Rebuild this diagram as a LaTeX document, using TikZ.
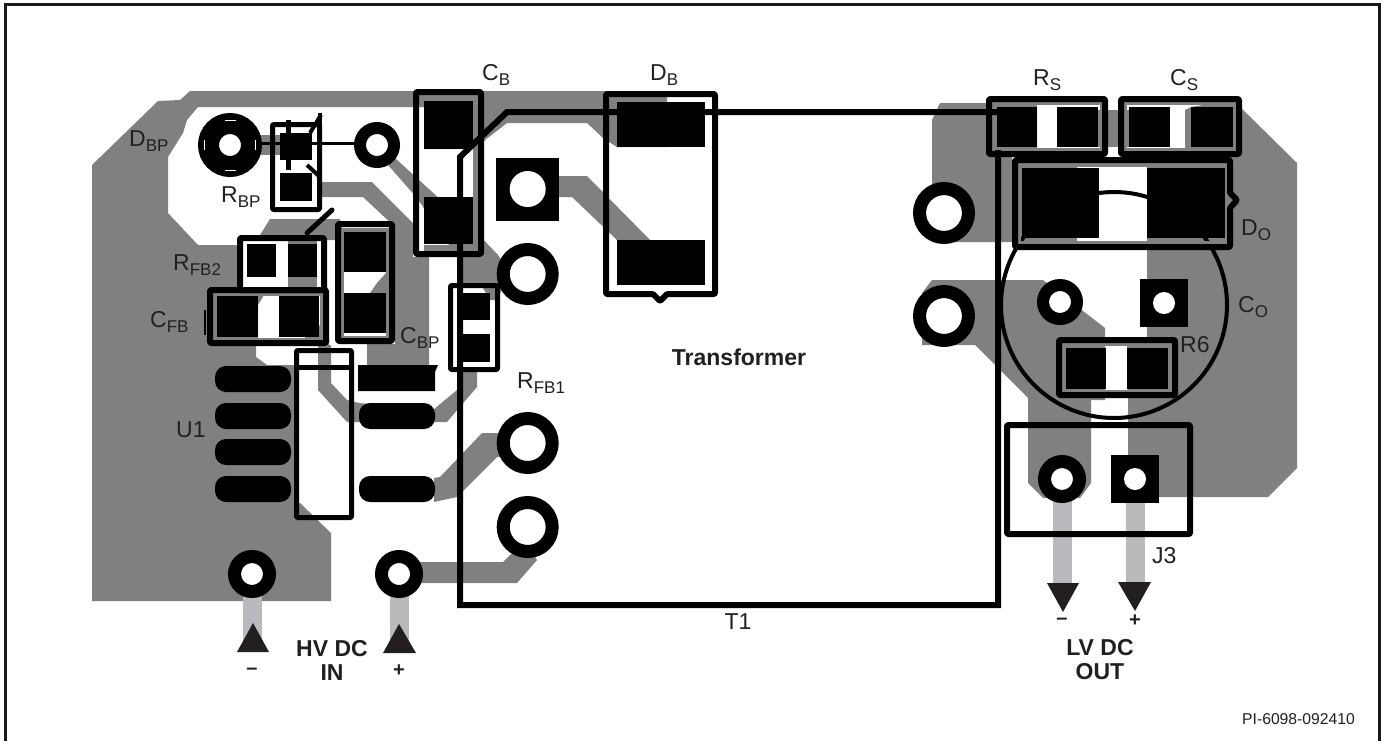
\documentclass[tikz,border=0pt]{standalone}
\usepackage{fontspec}
\setmainfont{Liberation Sans}
\definecolor{trace}{HTML}{808080}
\definecolor{lead}{HTML}{B8BABD}
\definecolor{ink}{HTML}{231F20}
\newcommand\sbx[1]{\raisebox{-0.22em}{\fontsize{17}{17}\selectfont #1}}
\newcommand\ringpad[4]{\fill[white] (#1,#2) circle[radius=#3pt];\draw[line width=#4pt-#3pt,black] (#1,#2) circle[radius=#3pt/2+#4pt/2];}
\newcommand\sqpad[4]{\fill[black] (#1-#3,#2-#3) rectangle (#1+#3,#2+#3);\fill[white] (#1,#2) circle[radius=#4pt];}
\tikzset{
  x=1pt,y=-1pt,
  tr/.style={fill=trace},
  bx/.style={draw=black,line width=6pt,line join=round,rounded corners=1pt},
  inr/.style={draw=trace,line width=4pt},
  wire/.style={draw=black,line width=6pt,line join=miter},
  lbl/.style={anchor=base west,inner sep=0pt,text=ink,font=\fontsize{23}{25}\selectfont},
  bld/.style={anchor=center,inner sep=0pt,align=center,text=ink,font=\fontsize{23}{24}\bfseries\selectfont},
  sgn/.style={anchor=center,inner sep=0pt,text=ink,font=\fontsize{20}{20}\bfseries\selectfont},
  lead line/.style={fill=lead},
  tip/.style={fill=ink},
}
\begin{document}
\begin{tikzpicture}
\useasboundingbox (0,0) rectangle (1383,740);
\fill[white] (0,0) rectangle (1383,740);
\draw[black!90,line width=3pt] (5.5,741) -- (5.5,4) -- (1379.5,4) -- (1379.5,741);

% ---- copper, left half
\path[tr] (92,165) -- (158,101) -- (180,100) -- (190,91) -- (667,91) -- (667,147) -- (617,147) -- (603,138) -- (587,123) -- (507,123) -- (485,140) -- (480,149) -- (424,149) -- (424,107) -- (198,107) -- (187,120) -- (183,133) -- (168,157) -- (168,213) -- (198,245) -- (237,245) -- (237,290) -- (267,290) -- (258,305) -- (258,346) -- (256,346) -- (256,357) -- (267,365) -- (294,365) -- (294,503) -- (300,503) -- (331,533) -- (331,601) -- (92,601) -- cycle;
\path[tr] (260,155) rectangle (285,135);
\path[tr] (260,235) -- (270,219) -- (340,219) -- (345,240) -- (260,240) -- cycle;
\path[tr] (288,240) rectangle (317,300);
\path[tr] (319,325) -- (329,337) -- (329,346) -- (305,346) -- (305,325) -- cycle;
\path[tr] (322,182) -- (372,182) -- (413,223) -- (413,257) -- (429,257) -- (429,365) -- (367,365) -- (367,344) -- (395,344) -- (395,227) -- (363,197) -- (322,197) -- cycle;
\path[tr] (377,283) -- (386,273) -- (386,293) -- (370,293) -- cycle;
\path[tr] (395,158) -- (477,233) -- (498,255) -- (510,272) -- (497,300) -- (490,300) -- (480,283) -- (458,283) -- (458,258) -- (417,198) -- (388,165) -- cycle;
\path[tr] (473,101) rectangle (479,250);
\path[tr] (424,245) rectangle (479,251);
\path[tr] (318,345) -- (331,345) -- (331,383) -- (347,400) -- (359,403) -- (433,410) -- (457,390) -- (457,370) -- (477,370) -- (477,387) -- (447,422) -- (347,422) -- (318,390) -- cycle;
\path[tr] (434,478) -- (440,477) -- (482,433) -- (510,433) -- (510,457) -- (497,457) -- (457,497) -- (434,502) -- cycle;
\path[tr] (410,562) -- (503,562) -- (525,540) -- (537,560) -- (517,583) -- (410,583) -- cycle;
\path[tr] (559,176) -- (587,176) -- (650,240) -- (617,240) -- (572,197) -- (559,197) -- cycle;

% ---- copper, right half
\path[tr] (932,120) -- (940,103) -- (1037,103) -- (1037,150) -- (1012,157) -- (1012,242) -- (932,242) -- cycle;
\path[tr] (1057,110) rectangle (1170,147);
\path[tr] (1012,165) rectangle (1077,242);
\path[tr] (922,293) -- (932,280) -- (1043,280) -- (1105,328) -- (1105,400) -- (1091,400) -- (1091,483) -- (1080,498) -- (1043,498) -- (1028,483) -- (1028,398) -- (975,345) -- (922,345) -- cycle;
\path[tr] (1233,100) -- (1297,163) -- (1297,468) -- (1268,497) -- (1128,497) -- (1128,400) -- (1127,345) -- (1147,345) -- (1147,162) -- (1185,162) -- (1185,110) -- (1191,107) -- cycle;

% ---- leads
\path[lead line] (243,590) rectangle (262,640);
\path[lead line] (390,590) rectangle (409,640);
\path[lead line] (1053,495) rectangle (1072,590);
\path[lead line] (1126,500) rectangle (1145,590);

% ---- capacitor outline
\draw[black,line width=4pt] (1114,305) circle[radius=113pt];

% ---- inner silk frames
\draw[inr] (214,294) rectangle (322,340);
\draw[inr] (342,230) rectangle (388,338);
\draw[inr] (993,103) rectangle (1102,150);
\draw[inr] (1125,103) rectangle (1236,150);
\draw[inr] (1019,165) rectangle (1228,243);
\draw[inr] (1063,344) rectangle (1171,392);

% ---- pads
\foreach \a/\b/\c/\d in {
  280/133/312/160, 280/173/312/201,
  247/244/276/277, 288/244/317/277,
  217/296/258/337, 279/296/319/337,
  344/232/386/272, 344/293/386/333,
  424/101/473/149, 424/197/473/244,
  463/293/490/320, 463/334/490/362,
  617/102/705/147, 617/240/705/285,
  997/107/1037/147, 1057/107/1098/147,
  1129/107/1170/147, 1191/107/1233/147,
  1022/168/1099/238, 1147/168/1225/238,
  1066/348/1106/389, 1127/348/1168/389}
  {\fill[black] (\a,\b) rectangle (\c,\d);}
\fill[black] (358,365) -- (438,365) -- (435,372) -- (435,391) -- (358,391) -- cycle;
\foreach \a/\b in {215/366, 215/403, 215/439, 215/476, 359/403, 359/476}
  {\fill[black,rounded corners=11pt] (\a,\b) rectangle (\a+76,\b+26);}

% ---- through-hole pads
\ringpad{527.7}{274}{18}{31}
\ringpad{527.7}{443}{18}{31}
\ringpad{527.7}{527}{18}{31}
\sqpad{527.7}{189}{31.5}{18}
\ringpad{252}{574}{11}{24}
\ringpad{399}{574}{11}{24}
\ringpad{230}{145}{11}{32}
\ringpad{377}{145}{11}{23}
\ringpad{944}{213}{18}{31}
\ringpad{944}{316}{18}{31}
\ringpad{1060}{302}{11}{23}
\sqpad{1164}{303}{24}{11}
\ringpad{1062}{479}{11}{24}
\sqpad{1135}{479}{24}{11}
% small white marks inside the big ring
\draw[white,line width=1pt] (204,140) -- (204,150);
\draw[white,line width=1pt] (255,140) -- (255,150);
\draw[white,line width=1pt] (225,120) -- (236,120);
\draw[white,line width=1pt] (225,170) -- (236,170);

% ---- component boxes
\draw[bx,line width=5pt] (272.5,124.5) rectangle (319.5,209.5);
\draw[bx] (240,238) rectangle (324,290);
\draw[bx] (210,290) rectangle (326,343);
\draw[bx] (338,224) rectangle (392,341);
\draw[bx] (416,92) rectangle (481,254);
\draw[bx,line width=5pt] (450.5,285.5) rectangle (497.5,369.5);
\draw[bx,line width=5pt] (296.5,350.5) rectangle (351.5,517.5);
\draw[black,line width=5pt] (296,367) -- (352,367);
\draw[bx] (606,94) -- (715,94) -- (715,294) -- (667,294) -- (660,301) -- (653,294) -- (606,294) -- cycle;
\draw[bx] (989,99) rectangle (1105,154);
\draw[bx] (1121,99) rectangle (1239,154);
\draw[bx] (1015,160) -- (1230,160) -- (1230,193) -- (1237,200) -- (1230,208) -- (1230,247) -- (1015,247) -- cycle;
\draw[bx] (1059,340) rectangle (1175,395);
\draw[bx] (1007,425) rectangle (1190,534);
\draw[black,line width=2pt] (205,310) -- (205,335);

% ---- bypass diode symbol
\draw[black,line width=3pt] (262,143.5) -- (354,143.5);
\draw[black,line width=5pt] (288,120) -- (288,170);
\draw[black,line width=4pt] (320,113) -- (320,177);
\draw[black,line width=4pt] (310,133) -- (321,115);
\draw[black,line width=4pt] (307,165) -- (320,177);
\fill[black] (288,133) rectangle (312,160);
% ---- feedback stub
\draw[black,line width=5pt,line cap=round] (307,233) -- (332,210);

% ---- transformer outline
\draw[wire] (1020,112) -- (507,112) -- (460,157) -- (460,605) -- (998,605) -- (998,150);

% ---- arrow heads
\fill[tip] (253,623) -- (269,652) -- (237,652) -- cycle;
\fill[tip] (399,624) -- (416,653) -- (383,653) -- cycle;
\fill[tip] (1047,583) -- (1079,583) -- (1063,612) -- cycle;
\fill[tip] (1118,582) -- (1151,582) -- (1135,611) -- cycle;

% ---- labels
\node[lbl] (cb) at (482,80) {C\sbx{B}};
\node[lbl] (db) at (650,80) {D\sbx{B}};
\node[lbl] (rs) at (1033,85) {R\sbx{S}};
\node[lbl] (cs) at (1170,85) {C\sbx{S}};
\node[lbl] (dbp) at (129,146) {D\sbx{BP}};
\node[lbl] (rbp) at (221,202) {R\sbx{BP}};
\node[lbl] (rfbb) at (173,270) {R\sbx{FB2}};
\node[lbl] (cfb) at (150,327) {C\sbx{FB}};
\node[lbl] (cbp) at (400,343) {C\sbx{BP}};
\node[lbl] (rfba) at (517,388) {R\sbx{FB1}};
\node[lbl] (uo) at (176,437) {U1};
\node[lbl] (do) at (1241,235) {D\sbx{O}};
\node[lbl] (co) at (1238,312) {C\sbx{O}};
\node[lbl] (rsix) at (1180,352) {R6};
\node[lbl] (jt) at (1152,563) {J3};
\node[lbl,anchor=center] (to) at (738,622) {T1};
\node[bld] (tf) at (739,357) {Transformer};
\node[bld] (hv) at (332,660) {HV DC\\IN};
\node[bld] (lv) at (1100,660) {LV DC\\OUT};
\node[sgn] (hm) at (252,671) {–};
\node[sgn] (hp) at (399,671) {+};
\node[sgn] (lm) at (1062,621) {–};
\node[sgn] (lp) at (1135,621) {+};
\node[anchor=east,inner sep=0pt,text=ink,font=\fontsize{15.7}{16}\selectfont] (pi) at (1355,719) {PI-6098-092410};
\end{tikzpicture}
\end{document}
